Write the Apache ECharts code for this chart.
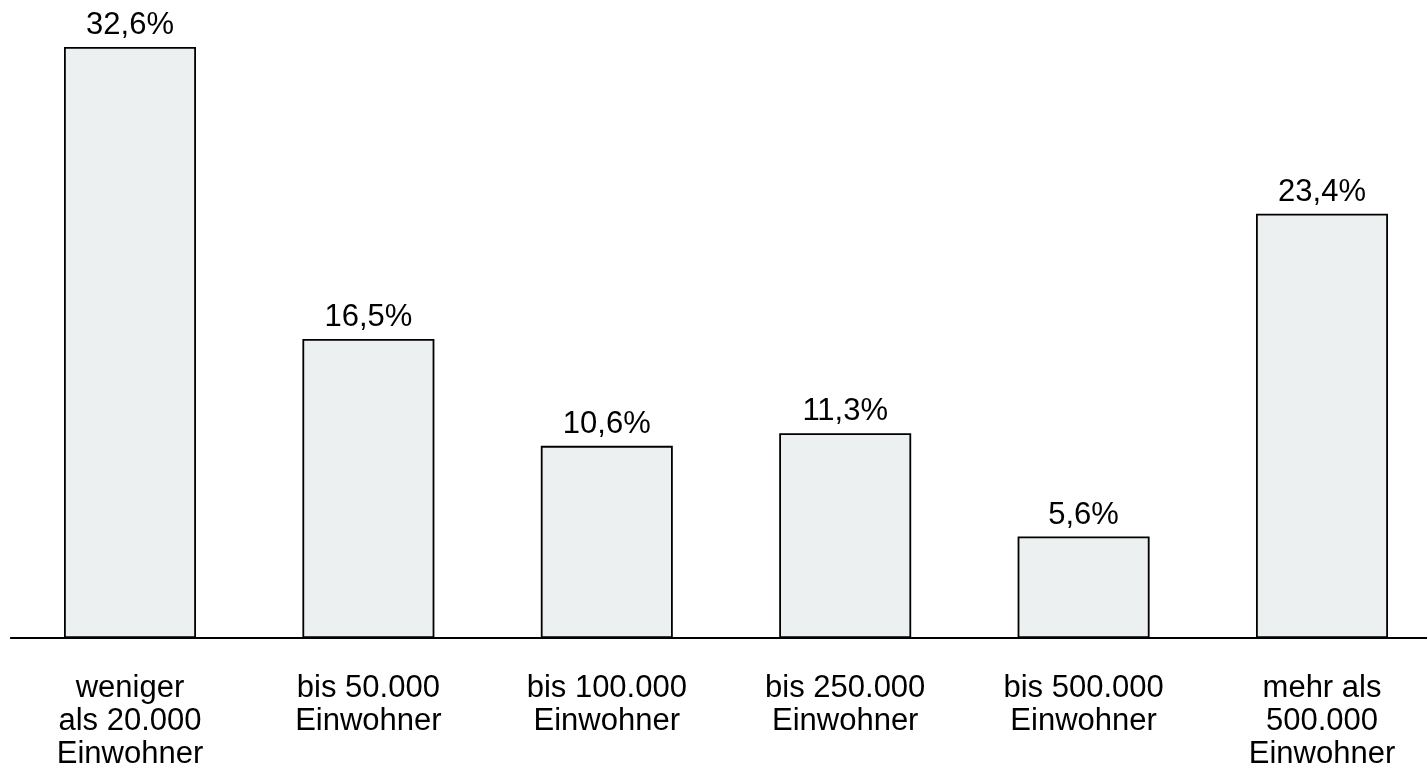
<!DOCTYPE html>
<html>
<head>
<meta charset="utf-8">
<script src="https://cdn.jsdelivr.net/npm/echarts@6/dist/echarts.min.js"></script>
<style>
  html, body { margin: 0; padding: 0; background: #ffffff; }
  #chart { width: 1427px; height: 773px; }
</style>
</head>
<body>
<div id="chart"></div>
<script>
// Share of residents by municipality size
const categories = [
  'weniger\nals 20.000\nEinwohner',
  'bis 50.000\nEinwohner',
  'bis 100.000\nEinwohner',
  'bis 250.000\nEinwohner',
  'bis 500.000\nEinwohner',
  'mehr als\n500.000\nEinwohner'
];
const shares = [32.6, 16.5, 10.6, 11.3, 5.6, 23.4];

const FONT = "'Liberation Sans', Helvetica, Arial, sans-serif";

const chart = echarts.init(document.getElementById('chart'), null, { renderer: 'canvas' });

chart.setOption({
  animation: false,
  backgroundColor: '#ffffff',
  grid: {
    left: 10.8, width: 1430.4, bottom: 135, height: 634.5,
    containLabel: false,
    outerBoundsMode: 'none'
  },
  xAxis: {
    type: 'category',
    data: categories,
    axisLine: { show: true, lineStyle: { color: '#000000', width: 2 } },
    axisTick: { show: false },
    axisLabel: {
      interval: 0,
      margin: 34,
      color: '#000000',
      fontFamily: FONT,
      fontSize: 31,
      lineHeight: 33,
      align: 'center'
    }
  },
  yAxis: {
    type: 'value',
    min: 0,
    max: 35,
    show: false,
    splitLine: { show: false }
  },
  series: [{
    type: 'bar',
    data: shares,
    barWidth: 132,
    itemStyle: {
      color: '#edf0f1',
      borderColor: '#000000',
      borderWidth: 1.8
    },
    label: {
      show: true,
      position: 'top',
      distance: 6,
      color: '#000000',
      fontFamily: FONT,
      fontSize: 31,
      formatter: p => p.value.toFixed(1).replace('.', ',') + '%'
    }
  }]
});
</script>
</body>
</html>
